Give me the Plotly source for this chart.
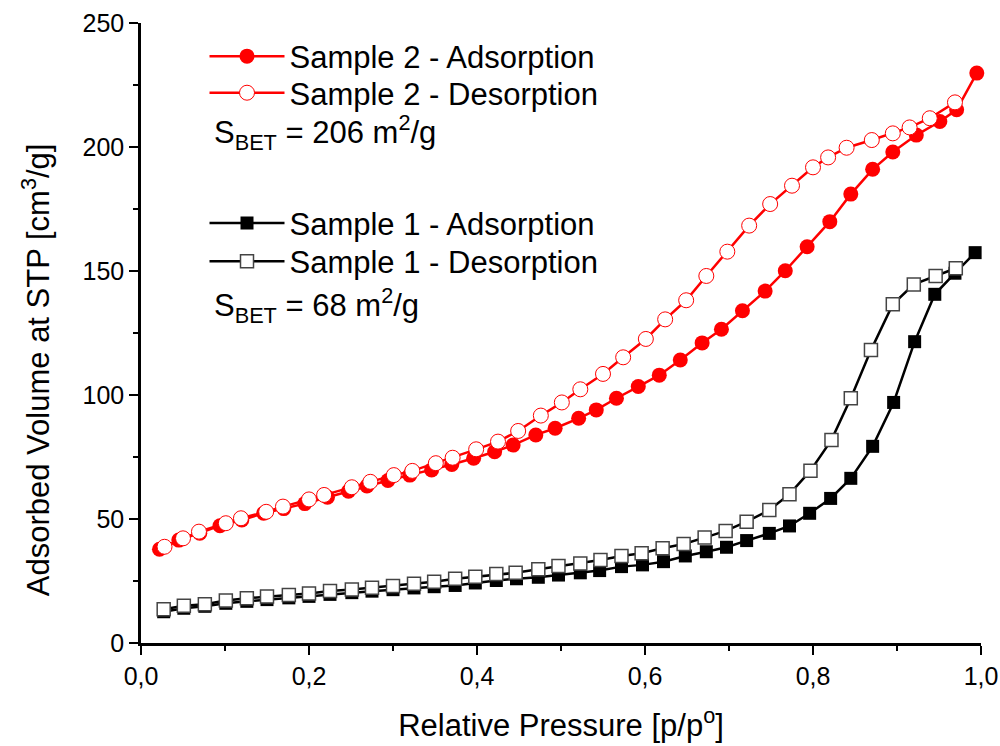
import plotly.graph_objects as go

# Sample 2 (red)
s2_ads_x = [0.022, 0.045, 0.070, 0.094, 0.120, 0.146, 0.170, 0.195, 0.222, 0.247, 0.269, 0.294, 0.320, 0.346,
            0.370, 0.396, 0.421, 0.443, 0.470, 0.493, 0.521, 0.542, 0.566, 0.592, 0.617, 0.642, 0.668, 0.691,
            0.716, 0.743, 0.767, 0.793, 0.820, 0.845, 0.871, 0.895, 0.923, 0.951, 0.971, 0.995]
s2_ads_y = [37.8, 41.5, 44.3, 47.3, 49.6, 52.3, 54.2, 56.2, 58.8, 61.2, 63.3, 65.5, 67.7, 69.8,
            72.0, 74.5, 77.1, 79.8, 83.9, 86.6, 90.6, 94.0, 98.7, 103.4, 108.0, 114.1, 121.0, 126.5,
            134.0, 141.9, 150.1, 159.8, 169.9, 181.0, 191.0, 198.0, 204.8, 210.3, 215.0, 229.8]
s2_des_x = [0.028, 0.050, 0.069, 0.101, 0.119, 0.149, 0.169, 0.200, 0.218, 0.251, 0.273, 0.301, 0.323, 0.351,
            0.371, 0.399, 0.425, 0.449, 0.476, 0.501, 0.523, 0.550, 0.574, 0.601, 0.624, 0.649, 0.673, 0.698,
            0.724, 0.749, 0.775, 0.800, 0.818, 0.840, 0.870, 0.895, 0.915, 0.939, 0.969]
s2_des_y = [38.8, 42.2, 44.9, 48.3, 50.3, 52.9, 55.0, 57.9, 59.7, 62.8, 65.0, 67.7, 69.4, 72.5,
            74.7, 78.1, 81.2, 85.5, 91.7, 97.0, 102.3, 108.5, 115.2, 122.6, 130.5, 138.2, 148.0, 157.8,
            168.3, 177.0, 184.4, 191.8, 195.8, 199.7, 202.8, 205.5, 207.9, 211.6, 218.0]

# Sample 1 (black)
s1_ads_x = [0.027, 0.051, 0.076, 0.101, 0.126, 0.150, 0.176, 0.200, 0.225, 0.251, 0.275, 0.300, 0.325, 0.349,
            0.374, 0.398, 0.423, 0.447, 0.473, 0.497, 0.523, 0.546, 0.572, 0.597, 0.622, 0.648, 0.673, 0.697,
            0.721, 0.748, 0.772, 0.796, 0.821, 0.845, 0.871, 0.896, 0.921, 0.945, 0.969, 0.993]
s1_ads_y = [12.6, 14.0, 14.8, 16.0, 16.8, 17.5, 18.2, 18.8, 19.6, 20.3, 20.9, 21.5, 22.2, 22.7,
            23.2, 24.2, 25.2, 25.9, 26.5, 27.4, 28.3, 29.2, 30.8, 31.5, 32.8, 35.1, 36.8, 38.6,
            41.3, 44.2, 47.2, 52.3, 58.3, 66.4, 79.3, 97.0, 121.5, 140.6, 149.1, 157.4]
s1_des_x = [0.027, 0.051, 0.076, 0.101, 0.126, 0.150, 0.176, 0.200, 0.225, 0.251, 0.275, 0.300, 0.325, 0.349,
            0.374, 0.398, 0.423, 0.446, 0.473, 0.497, 0.523, 0.547, 0.572, 0.596, 0.621, 0.646, 0.671, 0.696,
            0.721, 0.748, 0.772, 0.797, 0.822, 0.845, 0.869, 0.895, 0.920, 0.946, 0.970]
s1_des_y = [13.6, 15.0, 15.6, 17.1, 18.0, 18.8, 19.4, 20.0, 21.0, 21.6, 22.3, 23.0, 23.9, 24.7,
            25.9, 26.7, 27.8, 28.3, 29.7, 31.0, 32.1, 33.5, 35.1, 36.2, 38.2, 39.9, 42.5, 45.2,
            48.9, 53.6, 60.0, 69.5, 81.9, 98.7, 118.1, 136.6, 144.6, 148.0, 151.1]

x_ticks = [0.0, 0.2, 0.4, 0.6, 0.8, 1.0]
y_ticks = [0, 50, 100, 150, 200, 250]

RED = "#ff0000"
BLACK = "#000000"
FONT = "Liberation Sans, Arial, sans-serif"
TXT = 31

fig = go.Figure()

fig.add_trace(go.Scatter(
    x=s2_ads_x, y=s2_ads_y, mode="lines+markers", name="Sample 2 - Adsorption",
    line=dict(color=RED, width=2.5),
    marker=dict(symbol="circle", size=15, color=RED, line=dict(color=RED, width=0)),
    legend="legend", cliponaxis=False))
fig.add_trace(go.Scatter(
    x=s2_des_x, y=s2_des_y, mode="lines+markers", name="Sample 2 - Desorption",
    line=dict(color=RED, width=2.5),
    marker=dict(symbol="circle", size=15, color="white", line=dict(color=RED, width=1)),
    legend="legend2", cliponaxis=False))
fig.add_trace(go.Scatter(
    x=s1_ads_x, y=s1_ads_y, mode="lines+markers", name="Sample 1 - Adsorption",
    line=dict(color=BLACK, width=2.5),
    marker=dict(symbol="square", size=13, color=BLACK, line=dict(color=BLACK, width=0)),
    legend="legend3", cliponaxis=False))
fig.add_trace(go.Scatter(
    x=s1_des_x, y=s1_des_y, mode="lines+markers", name="Sample 1 - Desorption",
    line=dict(color=BLACK, width=2.5),
    marker=dict(symbol="square", size=13, color="white", line=dict(color="#444444", width=1.5)),
    legend="legend4", cliponaxis=False))

legend_common = dict(
    xanchor="left", yanchor="middle", bgcolor="rgba(0,0,0,0)",
    font=dict(family=FONT, size=TXT, color="black"),
    itemwidth=75, traceorder="normal",
)
LX = 0.0756

fig.update_layout(
    width=1000, height=746,
    margin=dict(l=141, r=19, t=23, b=103, autoexpand=False),
    paper_bgcolor="white", plot_bgcolor="white",
    separators=",.",
    showlegend=True,
    legend=dict(x=LX, y=0.946, **legend_common),
    legend2=dict(x=LX, y=0.887, **legend_common),
    legend3=dict(x=LX, y=0.677, **legend_common),
    legend4=dict(x=LX, y=0.615, **legend_common),
    font=dict(family=FONT, color="black"),
    xaxis=dict(
        range=[0, 1.0], tickvals=x_ticks, tickformat=".1f", automargin=False,
        showline=True, linecolor="black", linewidth=2.5, mirror=False,
        ticks="outside", ticklen=9, tickwidth=2, tickcolor="black",
        minor=dict(ticks="outside", ticklen=5, tickwidth=2, tickcolor="black", dtick=0.1, showgrid=False),
        showgrid=False, zeroline=False,
        tickfont=dict(family=FONT, size=25, color="black"),
        title=dict(text="Relative Pressure [p/p<sup>o</sup>]", font=dict(family=FONT, size=TXT, color="black"),
                   standoff=26),
    ),
    yaxis=dict(
        range=[0, 250], tickvals=y_ticks, automargin=False,
        showline=True, linecolor="black", linewidth=2.5, mirror=False,
        ticks="outside", ticklen=9, tickwidth=2, tickcolor="black",
        minor=dict(ticks="outside", ticklen=5, tickwidth=2, tickcolor="black", dtick=25, showgrid=False),
        showgrid=False, zeroline=False,
        tickfont=dict(family=FONT, size=25, color="black"),
    ),
    annotations=[
        dict(text="Adsorbed Volume at STP [cm<sup>3</sup>/g]", xref="paper", yref="paper",
             x=-0.125, y=0.44, xanchor="center", yanchor="middle", textangle=-90, showarrow=False,
             font=dict(family=FONT, size=TXT, color="black")),
        dict(text="S<sub>BET</sub> = 206 m<sup>2</sup>/g", xref="paper", yref="paper", x=0.084, y=0.823,
             xanchor="left", yanchor="middle", showarrow=False,
             font=dict(family=FONT, size=TXT, color="black")),
        dict(text="S<sub>BET</sub> = 68 m<sup>2</sup>/g", xref="paper", yref="paper", x=0.084, y=0.545,
             xanchor="left", yanchor="middle", showarrow=False,
             font=dict(family=FONT, size=TXT, color="black")),
    ],
)

fig.write_html("out.html")
